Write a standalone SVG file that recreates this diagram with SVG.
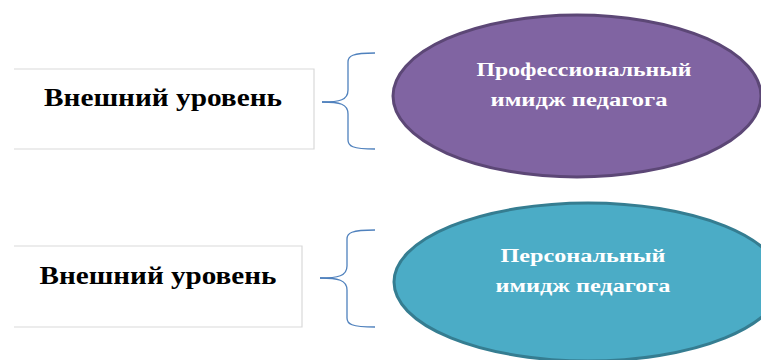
<svg xmlns="http://www.w3.org/2000/svg" width="761" height="360" viewBox="0 0 761 360">
<style>
.box{fill:#ffffff;stroke:#d9d9d9;stroke-width:1.2}
.lbl{font-family:"Liberation Serif","Times New Roman",serif;font-weight:bold;font-size:26px;fill:#000000}
.etx{font-family:"Liberation Serif","Times New Roman",serif;font-weight:bold;font-size:18px;fill:#ffffff}
.brace{fill:none;stroke:#4f81bd;stroke-width:1.3}
</style>
<rect width="761" height="360" fill="#ffffff"/>
<g id="box1">
<path class="box" d="M14,69 H314 V149 H14"/>
<text class="lbl" x="163" y="106" text-anchor="middle" textLength="238" lengthAdjust="spacingAndGlyphs">Внешний уровень</text>
</g>
<g id="box2">
<path class="box" d="M14,246 H302 V327 H14"/>
<text class="lbl" x="158" y="284" text-anchor="middle" textLength="237" lengthAdjust="spacingAndGlyphs">Внешний уровень</text>
</g>
<g id="connectors">
<path class="brace" d="M322,102 C340,102 348,100 348,90 V62 C348,56 352,53 375,53"/>
<path class="brace" d="M322,102 C340,102 348,104 348,114 V140 C348,146 352,149 375,149"/>
<path class="brace" d="M320,278 C338,278 347,276 347,266 V239 C347,233 351,230 375,230"/>
<path class="brace" d="M320,278 C338,278 347,280 347,290 V318 C347,324 351,327 375,327"/>
</g>
<g id="ellipse1">
<ellipse cx="577" cy="96" rx="184" ry="81" fill="#8064a2" stroke="#5c4776" stroke-width="3"/>
<text class="etx" x="584" y="76" text-anchor="middle" textLength="215" lengthAdjust="spacingAndGlyphs">Профессиональный</text>
<text class="etx" x="579" y="106" text-anchor="middle" textLength="177" lengthAdjust="spacingAndGlyphs">имидж педагога</text>
</g>
<g id="ellipse2">
<ellipse cx="588" cy="282" rx="194" ry="79" fill="#4bacc6" stroke="#357d91" stroke-width="3"/>
<text class="etx" x="583" y="262" text-anchor="middle" textLength="165" lengthAdjust="spacingAndGlyphs">Персональный</text>
<text class="etx" x="583" y="292" text-anchor="middle" textLength="175" lengthAdjust="spacingAndGlyphs">имидж педагога</text>
</g>
</svg>
